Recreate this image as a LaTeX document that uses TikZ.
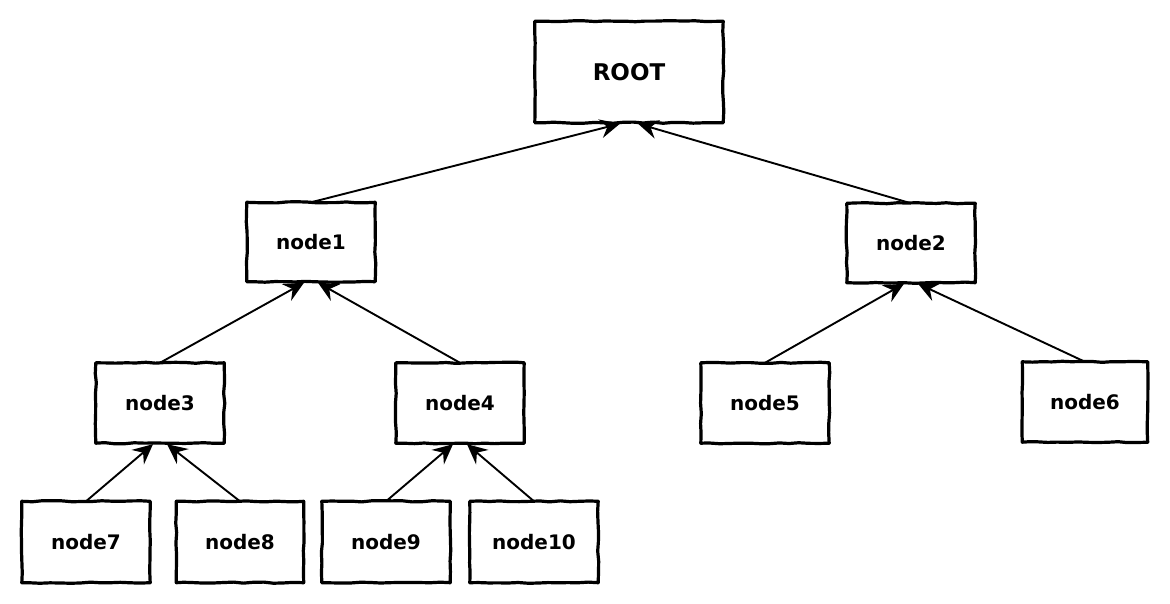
\documentclass[tikz,border=0pt]{standalone}
\usepackage{fontspec}
\setmainfont{DejaVu Sans}
\usetikzlibrary{arrows.meta,decorations.pathmorphing}
\begin{document}
\begin{tikzpicture}[x=1pt,y=-1pt,
  box/.style={minimum width=128pt, minimum height=80pt, inner sep=0pt,
    font=\bfseries\fontsize{20}{24}\selectfont},
  sketch/.style={line width=3.2pt, line join=round,
    decorate, decoration={random steps,segment length=10pt,amplitude=0.6pt}},
  edge/.style={line width=1.9pt, -{Stealth[length=20pt,width=19pt,inset=7pt]}}]
\useasboundingbox (0,0) rectangle (1170,604);
\pgfmathsetseed{7}
\node[box, minimum width=188pt, minimum height=101pt, font=\bfseries\fontsize{23}{27}\selectfont] (root) at (629,72) {ROOT};
\node[box, minimum height=79pt] (n1) at (311,242) {node1};
\node[box, minimum height=79pt] (n2) at (911,243) {node2};
\node[box] (n3) at (160,403) {node3};
\node[box] (n4) at (460,403) {node4};
\node[box] (n5) at (765,403) {node5};
\node[box, minimum width=125pt] (n6) at (1085,402) {node6};
\node[box, minimum height=81pt] (n7) at (86,542) {node7};
\node[box, minimum width=127pt, minimum height=81pt] (n8) at (240,542) {node8};
\node[box, minimum height=81pt] (n9) at (386,542) {node9};
\node[box, minimum height=81pt] (n10) at (534,542) {node10};
\foreach \n in {root,n1,n2,n3,n4,n5,n6,n7,n8,n9,n10}
  \draw[sketch] (\n.north west) -- (\n.north east) -- (\n.south east) -- (\n.south west) -- cycle;
\draw[edge] (n1.north) -- ([xshift=-9pt,yshift=-1pt]root.south);
\draw[edge] (n2.north) -- ([xshift=9pt,yshift=-1pt]root.south);
\draw[edge] (n3.north) -- ([xshift=-7pt,yshift=-1pt]n1.south);
\draw[edge] (n4.north) -- ([xshift=7pt,yshift=-1pt]n1.south);
\draw[edge] (n5.north) -- ([xshift=-7pt,yshift=-1pt]n2.south);
\draw[edge] (n6.north) -- ([xshift=7pt,yshift=-1pt]n2.south);
\draw[edge] (n7.north) -- ([xshift=-7pt,yshift=-1pt]n3.south);
\draw[edge] (n8.north) -- ([xshift=7pt,yshift=-1pt]n3.south);
\draw[edge] (n9.north) -- ([xshift=-7pt,yshift=-1pt]n4.south);
\draw[edge] (n10.north) -- ([xshift=7pt,yshift=-1pt]n4.south);
\end{tikzpicture}
\end{document}
